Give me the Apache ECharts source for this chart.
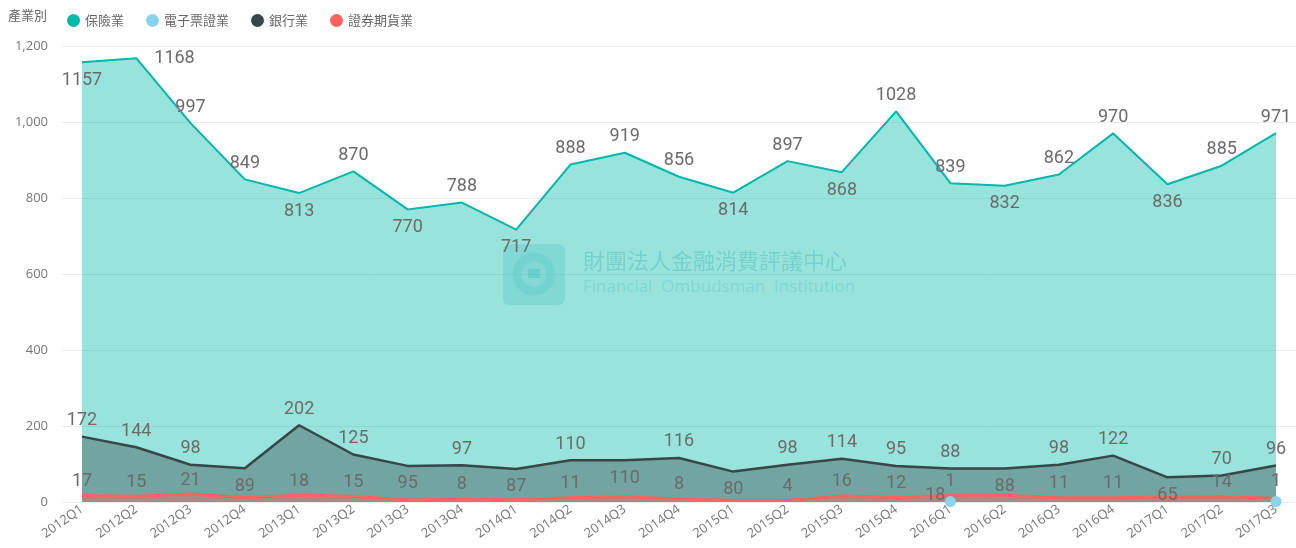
<!DOCTYPE html>
<html>
<head>
<meta charset="utf-8">
<script src="https://cdn.jsdelivr.net/npm/echarts@6/dist/echarts.min.js"></script>
<style>
html,body{margin:0;padding:0;background:#fff;}
#chart{width:1296px;height:548px;}
</style>
</head>
<body>
<div id="chart"></div>
<script>
const categories = ['2012Q1','2012Q2','2012Q3','2012Q4','2013Q1','2013Q2','2013Q3','2013Q4','2014Q1','2014Q2','2014Q3','2014Q4','2015Q1','2015Q2','2015Q3','2015Q4','2016Q1','2016Q2','2016Q3','2016Q4','2017Q1','2017Q2','2017Q3'];
const insurance = [1157,1168,997,849,813,870,770,788,717,888,919,856,814,897,868,1028,839,832,862,970,836,885,971];
const eTicket = [null,null,null,null,null,null,null,null,null,null,null,null,null,null,null,null,1,null,null,null,null,null,1];
const banking = [172,144,98,89,202,125,95,97,87,110,110,116,80,98,114,95,88,88,98,122,65,70,96];
const securities = [17,15,21,12,18,15,5,8,6,11,14,8,4,4,16,12,18,18,11,11,13,14,10];
const seriesNames = ['保險業','電子票證業','銀行業','證券期貨業'];
const legendTitle = '產業別';
const yTicks = [0,200,400,600,800,1000,1200];

const colors = ['#01B8AA','#8AD4EB','#374649','#FD625E'];
const labelColor = '#6b6b6b';
const labelFont = {fontFamily:'Roboto', fontSize:18, color:labelColor};

function isBelow(arr, i){
  const v = arr[i];
  const prevOk = (i === 0) || v <= arr[i-1];
  const nextOk = (i < arr.length-1) && v < arr[i+1];
  return prevOk && nextOk;
}
const yMax = yTicks[yTicks.length-1];
function labelFor(arr, i){
  if (isBelow(arr, i)) return {show:true, position:'bottom', distance:9};
  if (arr[i] > 0.95*yMax) return {show:true, position:'right', distance:18};
  return {show:true, position:'top', distance:7};
}

const insData = insurance.map((v,i)=>({value:v, label:labelFor(insurance,i)}));
const bankData = banking.map((v,i)=>({value:v, label:labelFor(banking,i)}));
const secData = securities.map((v,i)=>{
  let show = !isBelow(banking,i);
  let position = 'top';
  if (eTicket[i] != null) {
    if (i === securities.length-1) show = false; else position = 'left';
  }
  return {value:v, label:{show, position, distance:5}};
});

function areaSeries(name, data, color, lw){
  return {
    name, type:'line', data, xAxisIndex:1, yAxisIndex:1,
    symbol:'circle', symbolSize:0, showSymbol:true, smooth:false,
    lineStyle:{color, width:lw},
    itemStyle:{color},
    areaStyle:{color, opacity:0.4},
    label:{show:true, ...labelFont},
    emphasis:{disabled:true},
    z:3
  };
}

const chart = echarts.init(document.getElementById('chart'));
chart.setOption({
  animation:false,
  color:colors,
  legend:{
    left:62, top:9, icon:'circle', itemWidth:13, itemHeight:13, itemGap:22,
    textStyle:{fontFamily:'Noto Sans CJK TC', fontSize:13, color:'#666'},
    data:seriesNames
  },
  graphic:[
    {type:'text', left:8, top:9, style:{text:legendTitle, font:'13px "Noto Sans CJK TC"', fill:'#666'}},
    {type:'rect', shape:{x:503, y:244, width:62, height:61, r:6}, style:{fill:'rgba(120,190,205,0.28)'}, z:1},
    {type:'circle', shape:{cx:534, cy:274, r:17}, style:{fill:'none', stroke:'rgba(170,225,225,0.5)', lineWidth:9}, z:1},
    {type:'rect', shape:{x:528, y:269, width:12, height:9}, style:{fill:'rgba(120,190,205,0.4)'}, z:1},
    {type:'text', left:583, top:250, style:{text:'財團法人金融消費評議中心', font:'22px "Noto Sans CJK TC"', fill:'rgba(110,180,190,0.4)'}, z:1},
    {type:'text', left:583, top:279, style:{text:'Financial  Ombudsman  Institution', font:'17px "Open Sans"', fill:'rgba(110,180,190,0.28)'}, z:1}
  ],
  grid:[
    {left:62, right:0, top:46, bottom:46},
    {left:82, right:20, top:46, bottom:46}
  ],
  xAxis:[
    {gridIndex:0, type:'value', show:false, min:0, max:1},
    {gridIndex:1, type:'category', data:categories, boundaryGap:false,
     axisLine:{show:false}, axisTick:{show:false},
     axisLabel:{rotate:35, margin:6, interval:0, fontFamily:'Open Sans', fontSize:13, color:'#777'}}
  ],
  yAxis:[
    {gridIndex:0, type:'value', min:0, max:yMax, interval:200,
     axisLine:{show:false}, axisTick:{show:false},
     splitLine:{lineStyle:{color:'#ebebeb', width:1}},
     axisLabel:{margin:14, fontFamily:'Open Sans', fontSize:13, color:'#777',
       formatter:(v)=>v.toLocaleString('en-US')}},
    {gridIndex:1, type:'value', min:0, max:yMax, interval:200, show:false, splitLine:{show:false}}
  ],
  series:[
    areaSeries(seriesNames[0], insData, colors[0], 2),
    {
      name:seriesNames[1], type:'line', data:eTicket, xAxisIndex:1, yAxisIndex:1,
      symbol:'circle', symbolSize:11, showSymbol:true, connectNulls:false,
      lineStyle:{color:colors[1], width:2}, itemStyle:{color:colors[1]},
      label:{show:true, position:'top', distance:6, ...labelFont},
      emphasis:{disabled:true}, z:6
    },
    areaSeries(seriesNames[2], bankData, colors[2], 2.5),
    areaSeries(seriesNames[3], secData, colors[3], 3)
  ]
});
</script>
</body>
</html>
